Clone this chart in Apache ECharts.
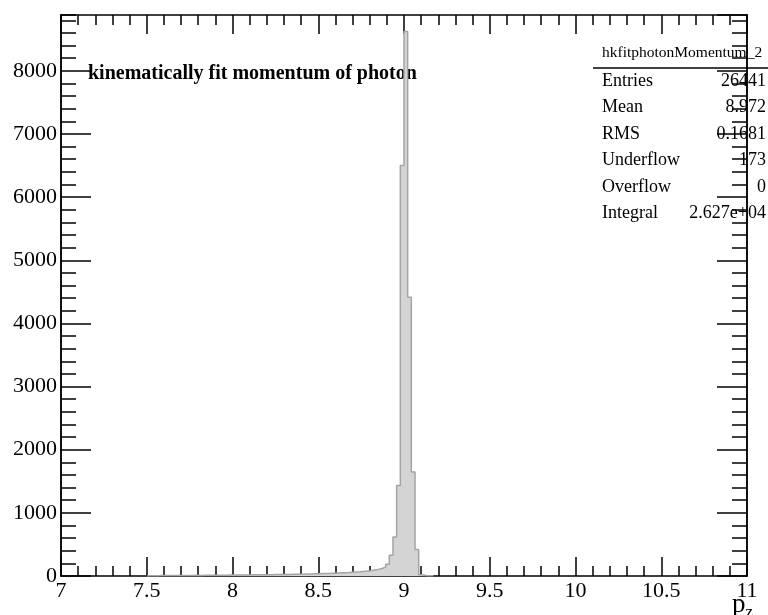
<!DOCTYPE html>
<html>
<head>
<meta charset="utf-8">
<script src="https://cdn.jsdelivr.net/npm/echarts@6/dist/echarts.min.js"></script>
<style>
  html, body { margin: 0; padding: 0; background: #fff; }
  #main { width: 768px; height: 615px; }
</style>
</head>
<body>
<div id="main"></div>
<script>
// histogram: 700 bins over 0..15, only the filled part is listed
const binWidth = 15 / 700;
const firstBin = 350;            // low edge = 350 * binWidth = 7.5
const counts = [
  4, 5, 5, 6, 6, 7, 6, 8, 7, 8,
  8, 9, 9, 10, 9, 11, 10, 12, 11, 12,
  13, 12, 14, 14, 15, 16, 15, 17, 18, 18,
  19, 20, 21, 20, 22, 23, 24, 25, 25, 27,
  28, 29, 30, 32, 33, 35, 36, 38, 40, 42,
  45, 47, 50, 53, 56, 60, 64, 68, 73, 78,
  85, 95, 105, 120, 140,
  185, 328, 617, 1435, 6500, 8623, 4415, 1646, 418,
  20, 8, 4, 2
];
const xTicks = [7, 11, 0.5];
const yMax = 8884;

const statsTitle = 'hkfitphotonMomentum_2';
const statsNames = ['Entries', 'Mean', 'RMS', 'Underflow', 'Overflow', 'Integral'];
const statsValues = ['26441', '8.972', '0.1681', '173', '0', '2.627e+04'];

// step outline points: [low edge, count], closed at the last high edge
const pts = [[firstBin * binWidth, 0]];
counts.forEach(function (c, i) {
  pts.push([(firstBin + i) * binWidth, c]);
});
pts.push([(firstBin + counts.length) * binWidth, 0]);

const font = 'Liberation Serif';
const chart = echarts.init(document.getElementById('main'));

const graphics = [];
graphics.push({
  type: 'text', x: 602, y: 53,
  style: { text: statsTitle, font: '15.5px "' + font + '"', fill: '#000', textVerticalAlign: 'middle' }
});
graphics.push({
  type: 'line', shape: { x1: 593, y1: 68, x2: 768, y2: 68 },
  style: { stroke: '#000', lineWidth: 1.5 }
});
statsNames.forEach(function (n, i) {
  const y = 81 + i * 26.5;
  graphics.push({
    type: 'text', x: 602, y: y,
    style: { text: n, font: '18px "' + font + '"', fill: '#000', textVerticalAlign: 'middle' }
  });
  graphics.push({
    type: 'text', x: 766, y: y,
    style: { text: statsValues[i], font: '18px "' + font + '"', fill: '#000',
             textAlign: 'right', textVerticalAlign: 'middle' }
  });
});
graphics.push({
  type: 'text', x: 88, y: 74,
  style: { text: 'kinematically fit momentum of photon', font: 'bold 20px "' + font + '"',
           fill: '#000', textVerticalAlign: 'middle' }
});
graphics.push({
  type: 'text', x: 732, y: 588,
  style: {
    text: '{p|p}{z|z}',
    rich: {
      p: { fontFamily: font, fontSize: 27, fill: '#000' },
      z: { fontFamily: font, fontSize: 17, fill: '#000', padding: [16, 0, 0, 0] }
    }
  }
});

const axisLine = { show: true, onZero: false, lineStyle: { color: '#000', width: 1.5 } };

function yAxisDef(pos, step, len, labels) {
  return {
    type: 'value', position: pos, min: 0, max: yMax, interval: step,
    splitLine: { show: false },
    axisLine: axisLine,
    axisTick: { show: true, inside: true, length: len, lineStyle: { color: '#000', width: 1.5 } },
    axisLabel: {
      show: labels, showMaxLabel: false, margin: 4, color: '#000',
      fontFamily: font, fontSize: 22,
      formatter: function (v) { return String(v); }
    }
  };
}

function xAxisDef(pos, labels) {
  return {
    type: 'value', position: pos, min: xTicks[0], max: xTicks[1], interval: xTicks[2],
    splitLine: { show: false },
    axisLine: axisLine,
    axisTick: { show: true, inside: true, length: 19, lineStyle: { color: '#000', width: 1.5 } },
    minorTick: { show: true, splitNumber: 5, length: 10, lineStyle: { color: '#000', width: 1.5 } },
    axisLabel: {
      show: labels, margin: 4, color: '#000', fontFamily: font, fontSize: 22,
      formatter: function (v) { return String(v); }
    }
  };
}

chart.setOption({
  animation: false,
  backgroundColor: '#fff',
  grid: { left: 61, right: 21, top: 15, bottom: 39 },
  xAxis: [xAxisDef('bottom', true), xAxisDef('top', false)],
  yAxis: [
    yAxisDef('left', 1000, 30, true),
    yAxisDef('left', 200, 15, false),
    yAxisDef('right', 1000, 30, false),
    yAxisDef('right', 200, 15, false)
  ],
  graphic: graphics,
  series: [{
    type: 'line',
    step: 'end',
    data: pts,
    symbol: 'none',
    lineStyle: { color: '#a4a4a4', width: 1.5 },
    areaStyle: { color: '#d4d4d4', opacity: 1, origin: 'start' },
    z: 1
  }]
});
</script>
</body>
</html>
